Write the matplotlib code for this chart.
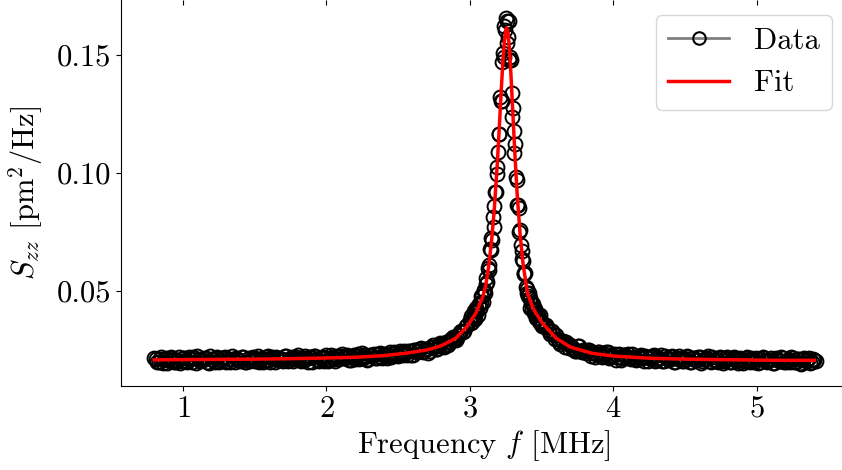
import numpy as np
import matplotlib.pyplot as plt
from matplotlib.lines import Line2D

plt.rcParams['font.family'] = 'serif'
plt.rcParams['font.serif'] = ['cmr10']
plt.rcParams['mathtext.fontset'] = 'cm'
plt.rcParams['axes.formatter.use_mathtext'] = True
plt.rcParams['font.size'] = 22

freq_low = np.linspace(0.80, 2.98, 110)
szz_low = [214, 199, 211, 196, 218, 206, 221, 201, 209, 194,
           217, 205, 220, 199, 214, 223, 203, 208, 218, 196,
           213, 201, 221, 207, 217, 199, 212, 225, 201, 210,
           205, 220, 198, 216, 213, 204, 224, 209, 201, 219,
           207, 222, 198, 217, 213, 204, 224, 206, 222, 210,
           227, 202, 217, 212, 221, 201, 224, 209, 216, 205,
           229, 209, 222, 205, 220, 225, 214, 229, 208, 220,
           213, 232, 218, 230, 208, 227, 223, 216, 234, 222,
           233, 216, 241, 225, 235, 223, 236, 247, 230, 245,
           228, 251, 244, 257, 244, 253, 244, 271, 255, 265,
           277, 262, 285, 284, 303, 291, 314, 332, 332, 354]

# points in between the ones above
freq_low2 = np.linspace(0.81, 2.97, 109)
szz_low2 = [211, 201, 219, 206, 196, 216, 209, 198, 221, 204,
            215, 200, 211, 221, 195, 213, 206, 218, 201, 223,
            208, 216, 199, 215, 220, 204, 197, 213, 218, 206,
            222, 201, 211, 203, 222, 213, 199, 217, 208, 224,
            201, 216, 221, 207, 211, 226, 204, 216, 202, 220,
            213, 207, 225, 201, 219, 224, 212, 205, 222, 216,
            202, 227, 213, 223, 210, 231, 215, 220, 207, 228,
            224, 212, 235, 221, 212, 228, 231, 218, 237, 215,
            229, 228, 220, 240, 228, 246, 228, 237, 244, 228,
            250, 242, 256, 242, 253, 239, 264, 261, 254, 278,
            268, 284, 273, 295, 297, 299, 328, 327, 351]

freq_peak = np.linspace(3.000, 3.500, 101)
szz_peak = [379, 366, 396, 367, 391, 414, 384, 380, 413, 428,
            415, 400, 446, 440, 429, 477, 452, 477, 452, 503,
            498, 493, 555, 531, 539, 598, 609, 588, 678, 672,
            723, 718, 813, 770, 859, 919, 918, 1024, 994, 1088,
            1166, 1164, 1321, 1303, 1304, 1470, 1507, 1492, 1621, 1604,
            1655, 1550, 1643, 1578, 1643, 1480, 1492, 1480, 1337, 1237,
            1276, 1177, 1083, 1121, 982, 969, 864, 863, 853, 749,
            757, 695, 637, 668, 627, 573, 574, 574, 517, 490,
            508, 477, 491, 470, 428, 448, 450, 422, 446, 406,
            413, 423, 385, 404, 386, 398, 374, 397, 363, 374, 352]

freq_high = np.linspace(3.52, 5.40, 95)
szz_high = [349, 349, 316, 317, 312, 284, 287, 264, 277, 272,
            256, 246, 266, 242, 246, 249, 226, 240, 232, 243,
            220, 232, 240, 219, 224, 209, 232, 218, 227, 233,
            212, 221, 207, 225, 214, 226, 202, 220, 228, 208,
            215, 204, 224, 211, 220, 200, 216, 224, 204, 210,
            220, 201, 216, 206, 222, 202, 213, 225, 198, 209,
            204, 219, 196, 216, 210, 199, 220, 205, 214, 194,
            216, 206, 218, 200, 211, 197, 220, 202, 208, 216,
            195, 213, 204, 217, 198, 208, 220, 200, 211, 195,
            213, 204, 218, 197, 209]

freq_high2 = np.linspace(3.53, 5.41, 95)
szz_high2 = [355, 329, 332, 297, 298, 275, 287, 283, 259, 261,
             246, 267, 247, 251, 235, 251, 235, 222, 240, 234,
             223, 241, 216, 229, 232, 221, 208, 229, 221, 215,
             231, 211, 221, 227, 203, 221, 214, 223, 203, 216,
             227, 205, 218, 209, 223, 200, 212, 218, 205, 224,
             201, 214, 208, 220, 196, 213, 217, 204, 221, 208,
             199, 215, 204, 219, 201, 210, 217, 195, 213, 204,
             221, 199, 207, 214, 196, 211, 217, 201, 208, 195,
             215, 205, 220, 198, 209, 201, 217, 199, 212, 192,
             215, 208, 196, 211, 203]

# fitted curve
fit_freq = [0.80, 1.00, 1.25, 1.50, 1.75, 2.00, 2.20, 2.40, 2.55, 2.70,
            2.80, 2.90, 2.98, 3.04, 3.09, 3.11, 3.13, 3.15, 3.17, 3.19,
            3.20, 3.21, 3.22, 3.23, 3.24, 3.25, 3.256, 3.265, 3.275, 3.285,
            3.295, 3.305, 3.315, 3.33, 3.35, 3.37, 3.40, 3.44, 3.50, 3.60,
            3.70, 3.85, 4.00, 4.25, 4.50, 4.75, 5.00, 5.20, 5.40]
fit_vals = [208, 209, 210, 211, 213, 216, 219, 226, 236, 250,
            268, 299, 350, 405, 476, 524, 603, 709, 850, 1035,
            1143, 1258, 1373, 1477, 1559, 1607, 1615, 1594, 1526, 1423,
            1302, 1177, 1058, 900, 735, 615, 493, 425, 367, 300,
            262, 236, 224, 215, 211, 209, 207, 206, 206]

freq = np.concatenate([freq_low, freq_low2, freq_peak, freq_high, freq_high2])
szz = np.concatenate([szz_low, szz_low2, szz_peak, szz_high, szz_high2]) * 1e-4
fit = np.array(fit_vals) * 1e-4

fig = plt.figure(figsize=(8.42, 4.70), dpi=100)
ax = fig.add_axes([0.1433, 0.1796, 0.8626, 0.8204])

ax.plot(freq, szz, 'o', mfc='none', mec='black', ms=10, mew=1.4)
ax.plot(fit_freq, fit, color='red', lw=2.5)

ax.set_xlim(0.566, 5.627)
ax.set_ylim(0.0099, 0.1733)
ax.set_xticks([1, 2, 3, 4, 5])
ax.set_yticks([0.05, 0.10, 0.15])
ax.set_yticklabels(['0.05', '0.10', '0.15'])

ax.spines['top'].set_visible(False)
ax.spines['right'].set_visible(False)

# short inward ticks along the top edge
top = ax.secondary_xaxis('top')
top.set_xticks([1, 2, 3, 4, 5])
top.tick_params(direction='in', labeltop=False)
top.spines['top'].set_visible(False)

ax.set_xlabel(r'Frequency $f$ [MHz]')
ax.set_ylabel(r'$S_{zz}$ $[\mathrm{pm}^2/\mathrm{Hz}]$')
ax.yaxis.set_label_coords(-0.104, 0.5)

handles = [Line2D([], [], color='gray', lw=2, marker='o', mfc='none',
                  mec='black', ms=9, mew=1.5),
           Line2D([], [], color='red', lw=2.5)]
fig.legend(handles, ['Data', 'Fit'], loc='upper right',
           bbox_to_anchor=(832 / 842, 1 - 15 / 470), borderaxespad=0)

fig.savefig('out.png', dpi=100)
